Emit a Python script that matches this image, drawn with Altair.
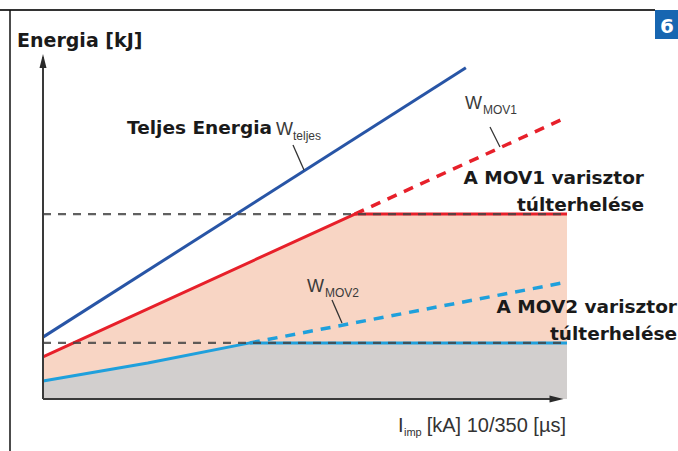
import altair as alt
import pandas as pd

# ---- data (arbitrary units: x = impulse current, y = energy) ----
total_x = [0, 80.7]
total_y = [18.2, 97.4]
mov1_x = [0, 59.5, 100]
mov1_y = [12.4, 54.4, 54.4]
mov1_over_x = [59.5, 100]
mov1_over_y = [54.4, 82.9]
mov2_x = [0, 20, 39.5, 100]
mov2_y = [5.3, 10.6, 16.5, 16.5]
mov2_over_x = [39.5, 100]
mov2_over_y = [16.5, 34.4]
limit_levels = [54.4, 16.5]

# ---- layout ----
W, H = 524, 340
L, T = 43, 59
R, B = 678 - L - W, 451 - T - H

xs = alt.Scale(domain=[0, 100], nice=False, zero=False)
ys = alt.Scale(domain=[0, 100], nice=False, zero=False)

BOLD_FONT = "DejaVu Sans"
REG_FONT = "Liberation Sans"


def frame(xv, yv):
    return pd.DataFrame({"x": xv, "y": yv, "y0": [0] * len(xv)})


def one():
    return pd.DataFrame({"a": [0]})


def area(xv, yv, color):
    return alt.Chart(frame(xv, yv)).mark_area(color=color, opacity=1).encode(
        x=alt.X("x:Q", scale=xs, axis=None),
        y=alt.Y("y:Q", scale=ys, axis=None),
        y2="y0:Q",
    )


def line(xv, yv, color, width, dash=None):
    kw = dict(color=color, strokeWidth=width, strokeCap="butt", strokeJoin="round")
    if dash:
        kw["strokeDash"] = dash
    return alt.Chart(frame(xv, yv)).mark_line(**kw).encode(
        x=alt.X("x:Q", scale=xs, axis=None),
        y=alt.Y("y:Q", scale=ys, axis=None),
    )


def text(s, x, y, size, bold=False, color="#1a1a1a", align="left", font=None):
    return alt.Chart(one()).mark_text(
        text=s, align=align, baseline="alphabetic", fontSize=size,
        font=font or (BOLD_FONT if bold else REG_FONT),
        fontWeight="bold" if bold else "normal", color=color,
    ).encode(x=alt.value(x - L), y=alt.value(y - T))


def seg(x1, y1, x2, y2, color="#333333", width=1.3):
    return alt.Chart(one()).mark_rule(color=color, strokeWidth=width).encode(
        x=alt.value(x1 - L), y=alt.value(y1 - T),
        x2=alt.value(x2 - L), y2=alt.value(y2 - T),
    )


layers = []

# filled regions
layers.append(area(mov1_x, mov1_y, "#f8d5c4"))
layers.append(area(mov2_x, mov2_y, "#d2cfce"))

# curves
layers.append(line(total_x, total_y, "#2855a6", 3))
layers.append(line(mov1_x, mov1_y, "#e7202a", 3))
layers.append(line(mov1_over_x, mov1_over_y, "#e7202a", 3.5, [10, 8]))
layers.append(line(mov2_x, mov2_y, "#1fa0dc", 3))
layers.append(line(mov2_over_x, mov2_over_y, "#1fa0dc", 3.5, [10, 8]))

# dashed limit levels
limits = pd.DataFrame({"y": limit_levels, "x0": [0] * len(limit_levels),
                       "x1": [100] * len(limit_levels)})
layers.append(
    alt.Chart(limits).mark_rule(color="#444444", strokeWidth=2.2, strokeDash=[8, 7], opacity=0.85).encode(
        x=alt.X("x0:Q", scale=xs, axis=None), x2="x1:Q",
        y=alt.Y("y:Q", scale=ys, axis=None),
    )
)

# axes with arrows
axes = pd.DataFrame({"x0": [0, 0], "x1": [0, 98.5], "y0": [0, 0], "y1": [100.5, 0]})
layers.append(
    alt.Chart(axes).mark_rule(color="#3a3a3a", strokeWidth=2).encode(
        x=alt.X("x0:Q", scale=xs, axis=None), x2="x1:Q",
        y=alt.Y("y0:Q", scale=ys, axis=None), y2="y1:Q",
    )
)
arrows = pd.DataFrame({"x": [0, 98.0], "y": [99.4, 0], "shape": ["up", "right"]})
layers.append(
    alt.Chart(arrows).mark_point(filled=True, opacity=1, color="#2a2a2a", size=196).encode(
        x=alt.X("x:Q", scale=xs, axis=None),
        y=alt.Y("y:Q", scale=ys, axis=None),
        shape=alt.Shape("shape:N", legend=None, scale=alt.Scale(
            domain=["up", "right"],
            range=["M0,-1L0.5,1L-0.5,1Z", "M1,0L-1,-0.5L-1,0.5Z"])),
    )
)

# frame and badge
layers.append(seg(0, 10, 655, 10, "#333333", 2))
layers.append(seg(10, 10, 10, 451, "#111111", 1.5))
layers.append(
    alt.Chart(one()).mark_rect(color="#1766b1").encode(
        x=alt.value(655 - L), x2=alt.value(678 - L),
        y=alt.value(10 - T), y2=alt.value(39 - T),
    )
)
layers.append(text("6", 667, 33, 20, bold=True, color="white", align="center"))

# titles
layers.append(text("Energia [kJ]", 17, 47, 19, bold=True))
layers.append(text("Teljes Energia", 272, 134, 18.5, bold=True, align="right"))
layers.append(text("W", 276, 135, 18, color="#3a3a3a"))
layers.append(text("teljes", 293, 140, 12, color="#3a3a3a"))
layers.append(seg(293, 145, 304, 170))

layers.append(text("W", 465, 109, 18, color="#3a3a3a"))
layers.append(text("MOV1", 483, 114, 12, color="#3a3a3a"))
layers.append(seg(490, 127, 500, 147))

layers.append(text("A MOV1 varisztor", 644, 184, 18.5, bold=True, align="right"))
layers.append(text("túlterhelése", 644, 211, 18.5, bold=True, align="right"))

layers.append(text("W", 307, 292, 18, color="#3a3a3a"))
layers.append(text("MOV2", 325, 297, 12, color="#3a3a3a"))
layers.append(seg(332, 300, 342, 323))

layers.append(text("A MOV2 varisztor", 677, 313, 18.5, bold=True, align="right"))
layers.append(text("túlterhelése", 677, 340, 18.5, bold=True, align="right"))

# x-axis label
layers.append(text("I", 398, 432, 20, color="#333333"))
layers.append(text("imp", 404, 436, 11, color="#333333"))
layers.append(text("[kA] 10/350 [µs]", 566, 432, 20, color="#333333", align="right"))

chart = alt.layer(*layers).properties(
    width=W, height=H,
    autosize=alt.AutoSizeParams(type="none"),
    padding={"left": L, "top": T, "right": R, "bottom": B},
    background="white",
).configure_view(stroke=None)

chart.save("out.html", embed_options={"renderer": "svg", "actions": False})
